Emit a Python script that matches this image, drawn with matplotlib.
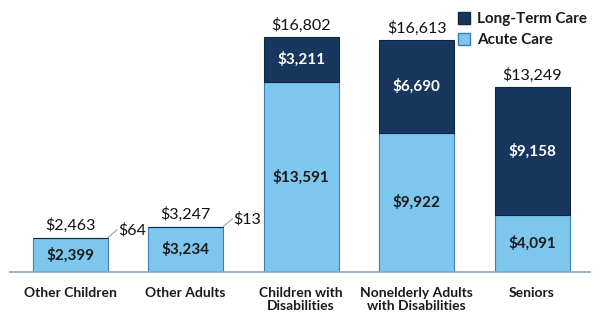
import matplotlib
matplotlib.use("Agg")
import matplotlib.pyplot as plt
from matplotlib.patches import Patch

categories = ["Other Children", "Other Adults", "Children with\nDisabilities",
              "Nonelderly Adults\nwith Disabilities", "Seniors"]
acute = [2399, 3234, 13591, 9922, 4091]
longterm = [64, 13, 3211, 6690, 9158]
totals = [2463, 3247, 16802, 16613, 13249]

acute_color = "#7DC6EE"
lt_color = "#17375E"
font = ["Lato", "DejaVu Sans"]

fig = plt.figure(figsize=(6, 3.2), dpi=100)
ax = fig.add_axes([0.017, 0.15, 0.966, 0.765])
x = list(range(len(categories)))
w = 0.65
ax.bar(x, acute, width=w, color=acute_color, edgecolor="#3F7FB5", linewidth=0.8)
ax.bar(x, longterm, width=w, bottom=acute, color=lt_color, edgecolor="#0E2640", linewidth=0.8)

ax.set_xlim(-0.52, 4.5)
ax.set_ylim(0, 17500)
for s in ["top", "right", "left"]:
    ax.spines[s].set_visible(False)
ax.spines["bottom"].set_color("#8EA4BC")
ax.spines["bottom"].set_linewidth(1.2)
ax.set_yticks([])
ax.set_xticks(x)
ax.set_xticklabels(categories, fontfamily=font, fontweight="bold", fontsize=10, color="#1a1a1a",
                   linespacing=1.1, va="top")
ax.tick_params(axis="x", length=0, pad=11)

for i in x:
    ax.text(i, acute[i] / 2, f"${acute[i]:,}", ha="center", va="center", fontfamily=font,
            fontweight="bold", fontsize=11, color="#1a1a1a")
    ax.text(i, totals[i] + 300, f"${totals[i]:,}", ha="center", va="bottom", fontfamily=font,
            fontsize=11.5, color="#111111")
    if longterm[i] > 1000:
        ax.text(i, acute[i] + longterm[i] / 2, f"${longterm[i]:,}", ha="center", va="center",
                fontfamily=font, fontweight="bold", fontsize=11, color="white")
    else:
        x0 = i + w / 2
        y0 = totals[i]
        ax.plot([x0, x0 + 0.08], [y0, y0 + 550], color="#8EA4BC", lw=0.8)
        ax.text(x0 + 0.09, y0 + 550, f"${longterm[i]:,}", ha="left", va="center",
                fontfamily=font, fontsize=11.5, color="#111111")

handles = [Patch(facecolor=lt_color, edgecolor="#0E2640"),
           Patch(facecolor=acute_color, edgecolor="#3F7FB5")]
leg = fig.legend(handles, ["Long-Term Care", "Acute Care"], loc="upper left",
                 bbox_to_anchor=(0.74, 1.005), frameon=False, handlelength=0.8, handleheight=0.8,
                 handletextpad=0.45, labelspacing=0.45,
                 prop={"family": font, "weight": "bold", "size": 11})
for t in leg.get_texts():
    t.set_color("#1a1a1a")

fig.savefig("out.png", dpi=100)
